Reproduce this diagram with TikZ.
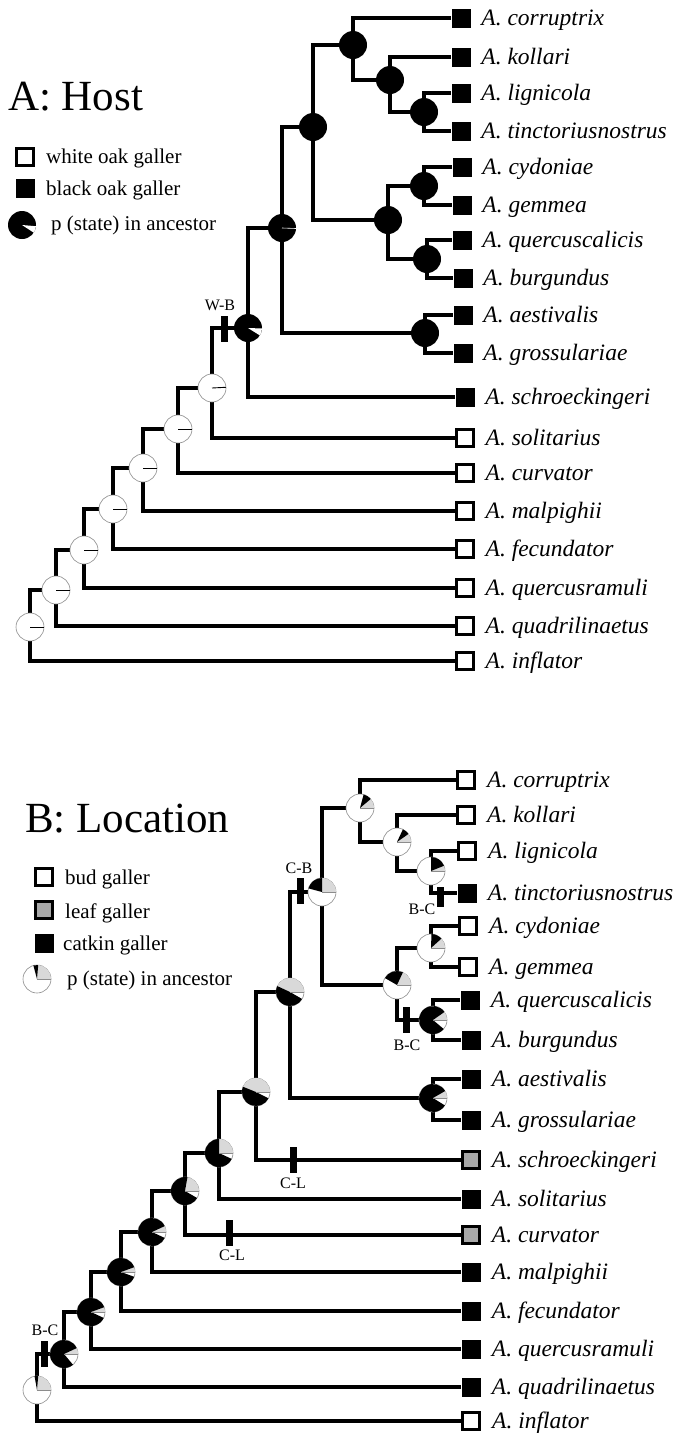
\documentclass[tikz,border=0pt]{standalone}
\usepackage{fontspec}
\setmainfont{Liberation Serif}
\definecolor{leafgray}{gray}{0.66}
\definecolor{piegray}{gray}{0.85}
\newcommand\pieR{14pt}
% white pie with a thin black radius
\newcommand\pieWhite[2]{%
  \fill[white] (#1) circle[radius=\pieR];
  \draw[pieline] (#1) circle[radius=\pieR];
  \draw[black, line width=0.9pt] (#1) -- ++(#2:\pieR);}
% black pie with white wedge from #2 to #3
\newcommand\pieBlack[3]{%
  \fill[black] (#1) circle[radius=\pieR];
  \fill[white] (#1) -- ++(#2:\pieR) arc[start angle=#2,end angle=#3,radius=\pieR] -- cycle;}
% three-state pie: gray 0..#2, black #2..#3, white #3..360
\newcommand\pieThree[3]{%
  \fill[white] (#1) circle[radius=\pieR];
  \draw[pieline] (#1) circle[radius=\pieR];
  \fill[piegray] (#1) -- ++(0:\pieR) arc[start angle=0,end angle=#2,radius=\pieR] -- cycle;
  \fill[black] (#1) -- ++(#2:\pieR) arc[start angle=#2,end angle=#3,radius=\pieR] -- cycle;
  \draw[pieline] (#1) -- ++(0:\pieR);}
\begin{document}
\begin{tikzpicture}[x=1pt,y=-1pt,
  br/.style={line width=3.3pt, line join=miter},
  bsq/.style={rectangle, fill=black, minimum size=19pt, inner sep=0pt},
  wsq/.style={rectangle, draw=black, fill=white, line width=3.4pt, minimum size=16.5pt, inner sep=0pt},
  gsq/.style={rectangle, draw=black, fill=leafgray, line width=3pt, minimum size=16.5pt, inner sep=0pt},
  lab/.style={anchor=base west, inner sep=0pt, font=\fontsize{23.5}{26}\selectfont\itshape},
  leg/.style={anchor=base west, inner sep=0pt, font=\fontsize{21}{24}\selectfont},
  ttl/.style={anchor=base west, inner sep=0pt, font=\fontsize{43}{48}\selectfont},
  bar/.style={rectangle, fill=black, minimum width=7pt, minimum height=26pt, inner sep=0pt},
  blab/.style={inner sep=0pt, font=\fontsize{16}{18}\selectfont},
  pieline/.style={draw=black!45, line width=0.6pt}]
\useasboundingbox (0,0) rectangle (677,1433);

% ================= PANEL A =================
\node[ttl] (titleA) at (8,110) {A: Host};
\node[wsq] (legAw) at (25,157) {};
\node[leg] (legAwt) at (46,163) {white oak galler};
\node[bsq] (legAb) at (25,188) {};
\node[leg] (legAbt) at (46,195) {black oak galler};
\coordinate (legAp) at (22,225);
\node[leg] (legApt) at (51,230) {p (state) in ancestor};

% tips A
\node[bsq] (tA1) at (461,18) {};
\node[bsq] (tA2) at (461,57) {};
\node[bsq] (tA3) at (461,93) {};
\node[bsq] (tA4) at (461,131) {};
\node[bsq] (tA5) at (462,167) {};
\node[bsq] (tA6) at (462,205) {};
\node[bsq] (tA7) at (462,240) {};
\node[bsq] (tA8) at (463,278) {};
\node[bsq] (tA9) at (463,315) {};
\node[bsq] (tA10) at (463,353) {};
\node[bsq] (tA11) at (465,397) {};
\node[wsq] (tA12) at (465,438) {};
\node[wsq] (tA13) at (465,473) {};
\node[wsq] (tA14) at (465,511) {};
\node[wsq] (tA15) at (465,549) {};
\node[wsq] (tA16) at (465,588) {};
\node[wsq] (tA17) at (465,626) {};
\node[wsq] (tA18) at (465,661) {};
\node[lab] (lA1) at ([xshift=10.5pt,yshift=-7.5pt]tA1.east) {A. corruptrix};
\node[lab] (lA2) at ([xshift=10.5pt,yshift=-7.5pt]tA2.east) {A. kollari};
\node[lab] (lA3) at ([xshift=10.5pt,yshift=-7.5pt]tA3.east) {A. lignicola};
\node[lab] (lA4) at ([xshift=10.5pt,yshift=-7.5pt]tA4.east) {A. tinctoriusnostrus};
\node[lab] (lA5) at ([xshift=10.5pt,yshift=-7.5pt]tA5.east) {A. cydoniae};
\node[lab] (lA6) at ([xshift=10.5pt,yshift=-7.5pt]tA6.east) {A. gemmea};
\node[lab] (lA7) at ([xshift=10.5pt,yshift=-7.5pt]tA7.east) {A. quercuscalicis};
\node[lab] (lA8) at ([xshift=10.5pt,yshift=-7.5pt]tA8.east) {A. burgundus};
\node[lab] (lA9) at ([xshift=10.5pt,yshift=-7.5pt]tA9.east) {A. aestivalis};
\node[lab] (lA10) at ([xshift=10.5pt,yshift=-7.5pt]tA10.east) {A. grossulariae};
\node[lab] (lA11) at ([xshift=10.5pt,yshift=-7.5pt]tA11.east) {A. schroeckingeri};
\node[lab] (lA12) at ([xshift=10.5pt,yshift=-7.5pt]tA12.east) {A. solitarius};
\node[lab] (lA13) at ([xshift=10.5pt,yshift=-7.5pt]tA13.east) {A. curvator};
\node[lab] (lA14) at ([xshift=10.5pt,yshift=-7.5pt]tA14.east) {A. malpighii};
\node[lab] (lA15) at ([xshift=10.5pt,yshift=-7.5pt]tA15.east) {A. fecundator};
\node[lab] (lA16) at ([xshift=10.5pt,yshift=-7.5pt]tA16.east) {A. quercusramuli};
\node[lab] (lA17) at ([xshift=10.5pt,yshift=-7.5pt]tA17.east) {A. quadrilinaetus};
\node[lab] (lA18) at ([xshift=10.5pt,yshift=-7.5pt]tA18.east) {A. inflator};

% internal nodes A
\coordinate (a1) at (30,627);
\coordinate (a2) at (56,590);
\coordinate (a3) at (84,550);
\coordinate (a4) at (113,509);
\coordinate (a5) at (143,468);
\coordinate (a6) at (178,429);
\coordinate (a7) at (212,388);
\coordinate (a8) at (248,328);
\coordinate (a9) at (282,228);
\coordinate (a10) at (313,127);
\coordinate (a11) at (353,45);
\coordinate (a12) at (390,80);
\coordinate (a13) at (424,112);
\coordinate (a14) at (388,220);
\coordinate (a15) at (424,186);
\coordinate (a16) at (427,259);
\coordinate (a17) at (425,333);

\draw[br] (a1) |- (a2);  \draw[br] (a1) |- (tA18.west);
\draw[br] (a2) |- (a3);  \draw[br] (a2) |- (tA17.west);
\draw[br] (a3) |- (a4);  \draw[br] (a3) |- (tA16.west);
\draw[br] (a4) |- (a5);  \draw[br] (a4) |- (tA15.west);
\draw[br] (a5) |- (a6);  \draw[br] (a5) |- (tA14.west);
\draw[br] (a6) |- (a7);  \draw[br] (a6) |- (tA13.west);
\draw[br] (a7) |- (a8);  \draw[br] (a7) |- (tA12.west);
\draw[br] (a8) |- (a9);  \draw[br] (a8) |- (tA11.west);
\draw[br] (a9) |- (a10); \draw[br] (a9) |- (a17);
\draw[br] (a10) |- (a11); \draw[br] (a10) |- (a14);
\draw[br] (a11) |- (tA1.west); \draw[br] (a11) |- (a12);
\draw[br] (a12) |- (tA2.west); \draw[br] (a12) |- (a13);
\draw[br] (a13) |- (tA3.west); \draw[br] (a13) |- (tA4.west);
\draw[br] (a14) |- (a15); \draw[br] (a14) |- (a16);
\draw[br] (a15) |- (tA5.west); \draw[br] (a15) |- (tA6.west);
\draw[br] (a16) |- (tA7.west); \draw[br] (a16) |- (tA8.west);
\draw[br] (a17) |- (tA9.west); \draw[br] (a17) |- (tA10.west);

\pieWhite{a1}{0}
\pieWhite{a2}{0}
\pieWhite{a3}{0}
\pieWhite{a4}{0}
\pieWhite{a5}{0}
\pieWhite{a6}{0}
\pieWhite{a7}{3}
\pieBlack{a8}{-32}{-2}
\fill[black] (a9) circle[radius=\pieR];
\draw[white, line width=0.6pt] (a9) -- ++(-2:\pieR);
\foreach \n in {a10,a11,a12,a13,a14,a15,a16,a17}
  \fill[black] (\n) circle[radius=\pieR];
\pieBlack{legAp}{-33}{-5}

\node[bar] (barWB) at (224,329) {};
\node[blab] (labWB) at (220,305) {W-B};

% ================= PANEL B =================
\node[ttl] (titleB) at (25,832) {B: Location};
\node[wsq] (legBb) at (44,877) {};
\node[leg] (legBbt) at (65,884) {bud galler};
\node[gsq] (legBl) at (44,910) {};
\node[leg] (legBlt) at (65,918) {leaf galler};
\node[bsq] (legBc) at (44,943) {};
\node[leg] (legBct) at (63,950) {catkin galler};
\coordinate (legBp) at (37,979);
\node[leg] (legBpt) at (67,985) {p (state) in ancestor};

% tips B
\node[wsq] (tB1) at (466,780) {};
\node[wsq] (tB2) at (466,815) {};
\node[wsq] (tB3) at (467,851) {};
\node[bsq] (tB4) at (467,893) {};
\node[wsq] (tB5) at (468,926) {};
\node[wsq] (tB6) at (468,967) {};
\node[bsq] (tB7) at (470,1000) {};
\node[bsq] (tB8) at (471,1040) {};
\node[bsq] (tB9) at (471,1079) {};
\node[bsq] (tB10) at (471,1120) {};
\node[gsq] (tB11) at (471,1160) {};
\node[bsq] (tB12) at (471,1199) {};
\node[gsq] (tB13) at (471,1235) {};
\node[bsq] (tB14) at (471,1272) {};
\node[bsq] (tB15) at (471,1311) {};
\node[bsq] (tB16) at (471,1349) {};
\node[bsq] (tB17) at (471,1387) {};
\node[wsq] (tB18) at (471,1421) {};
\node[lab] (lB1) at ([xshift=11pt,yshift=-7.5pt]tB1.east) {A. corruptrix};
\node[lab] (lB2) at ([xshift=11pt,yshift=-7.5pt]tB2.east) {A. kollari};
\node[lab] (lB3) at ([xshift=11pt,yshift=-7.5pt]tB3.east) {A. lignicola};
\node[lab] (lB4) at ([xshift=11pt,yshift=-7.5pt]tB4.east) {A. tinctoriusnostrus};
\node[lab] (lB5) at ([xshift=11pt,yshift=-7.5pt]tB5.east) {A. cydoniae};
\node[lab] (lB6) at ([xshift=11pt,yshift=-7.5pt]tB6.east) {A. gemmea};
\node[lab] (lB7) at ([xshift=11pt,yshift=-7.5pt]tB7.east) {A. quercuscalicis};
\node[lab] (lB8) at ([xshift=11pt,yshift=-7.5pt]tB8.east) {A. burgundus};
\node[lab] (lB9) at ([xshift=11pt,yshift=-7.5pt]tB9.east) {A. aestivalis};
\node[lab] (lB10) at ([xshift=11pt,yshift=-7.5pt]tB10.east) {A. grossulariae};
\node[lab] (lB11) at ([xshift=11pt,yshift=-7.5pt]tB11.east) {A. schroeckingeri};
\node[lab] (lB12) at ([xshift=11pt,yshift=-7.5pt]tB12.east) {A. solitarius};
\node[lab] (lB13) at ([xshift=11pt,yshift=-7.5pt]tB13.east) {A. curvator};
\node[lab] (lB14) at ([xshift=11pt,yshift=-7.5pt]tB14.east) {A. malpighii};
\node[lab] (lB15) at ([xshift=11pt,yshift=-7.5pt]tB15.east) {A. fecundator};
\node[lab] (lB16) at ([xshift=11pt,yshift=-7.5pt]tB16.east) {A. quercusramuli};
\node[lab] (lB17) at ([xshift=11pt,yshift=-7.5pt]tB17.east) {A. quadrilinaetus};
\node[lab] (lB18) at ([xshift=11pt,yshift=-7.5pt]tB18.east) {A. inflator};

% internal nodes B
\coordinate (b1) at (37,1390);
\coordinate (b2) at (64,1354);
\coordinate (b3) at (91,1312);
\coordinate (b4) at (121,1272);
\coordinate (b5) at (152,1232);
\coordinate (b6) at (185,1191);
\coordinate (b7) at (219,1153);
\coordinate (b8) at (256,1092);
\coordinate (b9) at (290,992);
\coordinate (b10) at (322,892);
\coordinate (b11) at (360,808);
\coordinate (b12) at (397,842);
\coordinate (b13) at (431,871);
\coordinate (b14) at (397,985);
\coordinate (b15) at (431,948);
\coordinate (b16) at (433,1020);
\coordinate (b17) at (433,1098);

\draw[br] (b1) |- (b2);  \draw[br] (b1) |- (tB18.west);
\draw[br] (b2) |- (b3);  \draw[br] (b2) |- (tB17.west);
\draw[br] (b3) |- (b4);  \draw[br] (b3) |- (tB16.west);
\draw[br] (b4) |- (b5);  \draw[br] (b4) |- (tB15.west);
\draw[br] (b5) |- (b6);  \draw[br] (b5) |- (tB14.west);
\draw[br] (b6) |- (b7);  \draw[br] (b6) |- (tB13.west);
\draw[br] (b7) |- (b8);  \draw[br] (b7) |- (tB12.west);
\draw[br] (b8) |- (b9);  \draw[br] (b8) |- (tB11.west);
\draw[br] (b9) |- (b10); \draw[br] (b9) |- (b17);
\draw[br] (b10) |- (b11); \draw[br] (b10) |- (b14);
\draw[br] (b11) |- (tB1.west); \draw[br] (b11) |- (b12);
\draw[br] (b12) |- (tB2.west); \draw[br] (b12) |- (b13);
\draw[br] (b13) |- (tB3.west); \draw[br] (b13) |- (tB4.west);
\draw[br] (b14) |- (b15); \draw[br] (b14) |- (b16);
\draw[br] (b15) |- (tB5.west); \draw[br] (b15) |- (tB6.west);
\draw[br] (b16) |- (tB7.west); \draw[br] (b16) |- (tB8.west);
\draw[br] (b17) |- (tB9.west); \draw[br] (b17) |- (tB10.west);

\pieThree{b1}{85}{100}
\pieThree{b2}{25}{310}
\pieThree{b3}{20}{335}
\pieThree{b4}{20}{340}
\pieThree{b5}{25}{335}
\pieThree{b6}{80}{330}
\pieThree{b7}{90}{335}
\pieThree{b8}{158}{333}
\pieThree{b9}{155}{330}
\pieThree{b10}{90}{165}
\pieThree{b11}{40}{75}
\pieThree{b12}{35}{65}
\pieThree{b13}{22}{90}
\pieThree{b14}{65}{150}
\pieThree{b15}{42}{88}
\pieThree{b16}{35}{320}
\pieThree{b17}{30}{328}
\pieThree{legBp}{85}{105}

\node[bar] (barCB) at (300,891) {};
\node[blab] (labCB) at (299,868) {C-B};
\node[bar, minimum height=20pt] (barBC1) at (440,897) {};
\node[blab] (labBC1) at (422,909) {B-C};
\node[bar] (barBC2) at (406,1020) {};
\node[blab] (labBC2) at (407,1045) {B-C};
\node[bar] (barCL1) at (293,1160) {};
\node[blab] (labCL1) at (293,1183) {C-L};
\node[bar] (barCL2) at (229,1233) {};
\node[blab] (labCL2) at (232,1255) {C-L};
\node[bar] (barBC3) at (44,1354) {};
\node[blab] (labBC3) at (45,1330) {B-C};
\end{tikzpicture}
\end{document}
